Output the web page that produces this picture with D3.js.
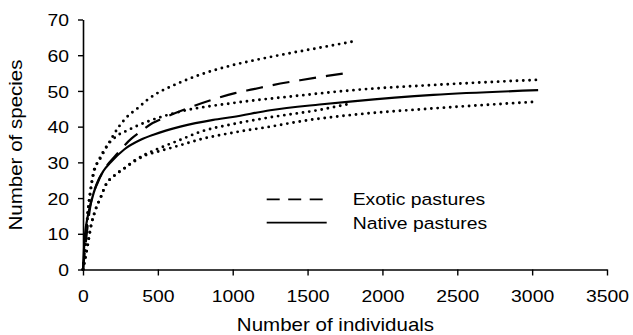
<!DOCTYPE html>
<html>
<head>
<meta charset="utf-8">
<script src="https://cdn.jsdelivr.net/npm/d3@7"></script>
<style>
  body { margin: 0; background: #fff; }
  svg { display: block; font-family: Arial, "Liberation Sans", sans-serif; }
</style>
</head>
<body>
<div id="chart"></div>
<script>
// rarefaction curves
const xTicks = [0, 500, 1000, 1500, 2000, 2500, 3000, 3500];
const yTicks = [0, 10, 20, 30, 40, 50, 60, 70];

const exoticX = [0, 50, 100, 150, 215, 325, 385, 465, 515, 695, 890, 1015, 1140, 1250, 1450, 1630, 1800];
const exoticY = [0, 18, 24.5, 28.5, 31.8, 36.7, 38.6, 41, 42, 45.1, 47.9, 49.4, 50.5, 51.5, 53, 54.2, 55.2];
const exoticUpX = [0, 10, 20, 30, 50, 73, 107, 140, 185, 240, 296, 363, 430, 650, 780, 980, 1250, 1580, 1800];
const exoticUpY = [0, 4, 9, 15, 22, 27.8, 30.4, 33, 36.3, 40, 42.8, 45.1, 47.5, 52.4, 54.5, 57, 59.5, 62.1, 63.8];
const exoticLowX = [0, 30, 55, 80, 120, 150, 210, 275, 340, 420, 500, 650, 780, 1000, 1250, 1580, 1770];
const exoticLowY = [0, 6.5, 12.5, 16.3, 20.4, 23.5, 26.3, 28.3, 30.4, 32.3, 33.8, 36.3, 38.5, 40.7, 42.6, 44.7, 46.3];

const nativeX = [0, 10, 30, 55, 90, 135, 185, 275, 385, 475, 650, 870, 1000, 1250, 1580, 1800, 2340, 3040];
const nativeY = [0, 8, 14.5, 19, 23.8, 27.5, 30, 33.6, 36.3, 37.8, 40, 41.9, 42.7, 44.6, 46.2, 47.1, 48.9, 50.2];
const nativeUpX = [0, 10, 20, 30, 50, 75, 110, 150, 230, 300, 365, 430, 650, 1000, 1400, 1800, 2400, 3030];
const nativeUpY = [0, 4, 9, 15, 22, 27.5, 31, 34, 37.5, 39, 40.3, 41.4, 44.2, 46.6, 48.5, 50.2, 51.8, 53.1];
const nativeLowX = [0, 30, 55, 80, 120, 150, 210, 275, 340, 420, 500, 650, 780, 1000, 1250, 1500, 1800, 2340, 3040];
const nativeLowY = [0, 6.5, 12.5, 16.3, 20.4, 23.5, 26.3, 28.3, 30.2, 32, 33, 34.8, 36.4, 38.3, 40, 41.8, 43.3, 45.1, 47];

const legendNames = ["Exotic pastures", "Native pastures"];

const W = 633, H = 335;
const x0 = 83, x1 = 607, yTop = 19.5, yBot = 269.5;
const squeeze = 1.14; // text in the source is stretched sideways

const svg = d3.select("#chart").append("svg")
    .attr("width", W)
    .attr("height", H);

const x = d3.scaleLinear().domain([0, 3500]).range([x0, x1]);
const y = d3.scaleLinear().domain([0, 70]).range([yBot, yTop]);

function zip(xs, ys) {
    return xs.map((v, i) => [v, ys[i]]);
}

const line = d3.line()
    .x(d => x(d[0]))
    .y(d => y(d[1]))
    .curve(d3.curveMonotoneX);

const series = [
    {pts: zip(exoticUpX, exoticUpY), style: "dot"},
    {pts: zip(exoticLowX, exoticLowY), style: "dot"},
    {pts: zip(nativeUpX, nativeUpY), style: "dot"},
    {pts: zip(nativeLowX, nativeLowY), style: "dot"},
    {pts: zip(nativeX, nativeY), style: "solid"},
    {pts: zip(exoticX, exoticY), style: "dash"}
];

series.forEach(s => {
    const p = svg.append("path")
        .datum(s.pts)
        .attr("d", line)
        .attr("fill", "none")
        .attr("stroke", "#000");
    if (s.style === "dot") {
        p.attr("stroke-width", 2.9)
         .attr("stroke-linecap", "round")
         .attr("stroke-dasharray", "0 6.3");
    } else if (s.style === "dash") {
        p.attr("stroke-width", 2.2)
         .attr("stroke-dasharray", "17 10");
    } else {
        p.attr("stroke-width", 2.2);
    }
});

// axes
const xAxis = svg.append("g")
    .attr("transform", "translate(0," + yBot + ")")
    .call(d3.axisBottom(x).tickValues(xTicks).tickFormat(d3.format("d")).tickSize(6).tickSizeOuter(0));
const yAxis = svg.append("g")
    .attr("transform", "translate(" + x0 + ",0)")
    .call(d3.axisLeft(y).tickValues(yTicks).tickFormat(d3.format("d")).tickSize(5).tickSizeOuter(0));

[xAxis, yAxis].forEach(a => {
    a.select(".domain").attr("stroke-width", 1.6);
    a.selectAll(".tick line").attr("stroke-width", 1.4);
    a.selectAll("text")
        .attr("font-family", "Arial, 'Liberation Sans', sans-serif")
        .attr("font-size", 17)
        .attr("fill", "#000");
});

xAxis.selectAll("text")
    .attr("y", 32.5)
    .attr("dy", 0)
    .attr("transform", "scale(" + squeeze + ",1)");
yAxis.selectAll("text")
    .attr("x", -14 / squeeze)
    .attr("dy", "0.36em")
    .attr("transform", "scale(" + squeeze + ",1)");

// axis titles
svg.append("text")
    .attr("transform", "translate(335.5,331) scale(" + squeeze + ",1)")
    .attr("text-anchor", "middle")
    .attr("font-size", 18)
    .text("Number of individuals");

svg.append("text")
    .attr("transform", "translate(22,145) rotate(-90) scale(" + squeeze + ",1)")
    .attr("text-anchor", "middle")
    .attr("font-size", 18)
    .text("Number of species");

// legend
const legend = svg.append("g");
const legendY = [199.3, 222.7];
legendNames.forEach((name, i) => {
    legend.append("line")
        .attr("x1", 266.7).attr("x2", 326.7)
        .attr("y1", legendY[i]).attr("y2", legendY[i])
        .attr("stroke", "#000")
        .attr("stroke-width", 1.8)
        .attr("stroke-dasharray", i === 0 ? "13 8.5" : null);
    legend.append("text")
        .attr("transform", "translate(352.7," + legendY[i] + ") scale(" + squeeze + ",1)")
        .attr("dy", "0.36em")
        .attr("font-size", 17)
        .text(name);
});
</script>
</body>
</html>
